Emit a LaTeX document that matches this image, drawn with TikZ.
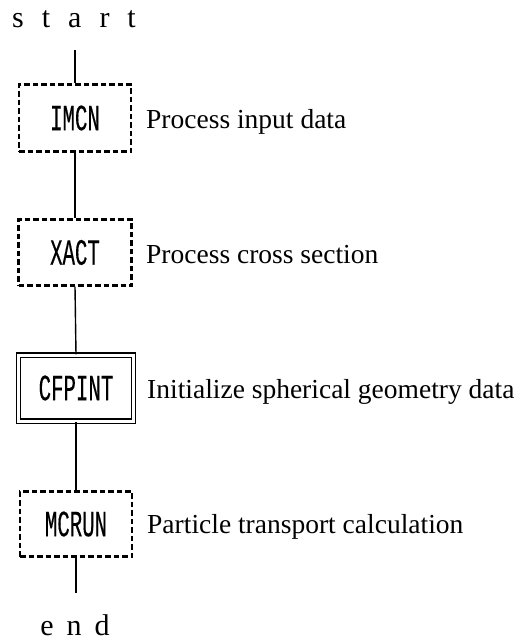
\documentclass[tikz,border=0pt]{standalone}
\usepackage{fontspec}
\setmainfont{Liberation Serif}
\newfontfamily\boxfont[FakeStretch=0.56,FakeBold=0.3]{Liberation Mono}
\begin{document}
\begin{tikzpicture}[x=1pt,y=-1pt,
  dbox/.style={draw, dash pattern=on 5.5pt off 3pt, line width=2.4pt, inner sep=0pt,
    font=\boxfont\fontsize{37}{40}\selectfont},
  wbox/.style={draw, double, double distance=3pt, line width=1.4pt, inner sep=0pt,
    font=\boxfont\fontsize{37}{40}\selectfont},
  lbl/.style={anchor=base west, inner sep=0pt, font=\fontsize{27.5}{30}\selectfont},
  term/.style={anchor=base, inner sep=0pt, font=\fontsize{30}{32}\selectfont},
  conn/.style={line width=1.4pt}]
\useasboundingbox (0,0) rectangle (515,640);

\node[term] (start) at (74,27) {s\hspace{18pt}t\hspace{18pt}a\hspace{18pt}r\hspace{18pt}t};
\coordinate (s1) at (75,50);

\node[dbox, minimum width=112pt, minimum height=67pt] (imcn) at (75,118) {IMCN};
\node[dbox, minimum width=113pt, minimum height=66pt] (xact) at (75,252.5) {XACT};
\node[wbox, minimum width=115pt, minimum height=66pt] (cfpint) at (76,388) {CFPINT};
\node[dbox, minimum width=112pt, minimum height=65pt] (mcrun) at (76,524) {MCRUN};

\coordinate (e1) at (76,593);
\node[term] (end) at (75,635) {e\hspace{13pt}n\hspace{13pt}d};

\node[lbl] (l1) at (146,128) {Process input data};
\node[lbl] (l2) at (146,263) {Process cross section};
\node[lbl] (l3) at (147,398) {Initialize spherical geometry data};
\node[lbl] (l4) at (147,533) {Particle transport calculation};

\draw[conn] (s1) -- (imcn.north);
\draw[conn] (imcn.south) -- (xact.north);
\draw[conn] (xact.south) -- (cfpint.north);
\draw[conn] (cfpint.south) -- (mcrun.north);
\draw[conn] (mcrun.south) -- (e1);
\end{tikzpicture}
\end{document}
